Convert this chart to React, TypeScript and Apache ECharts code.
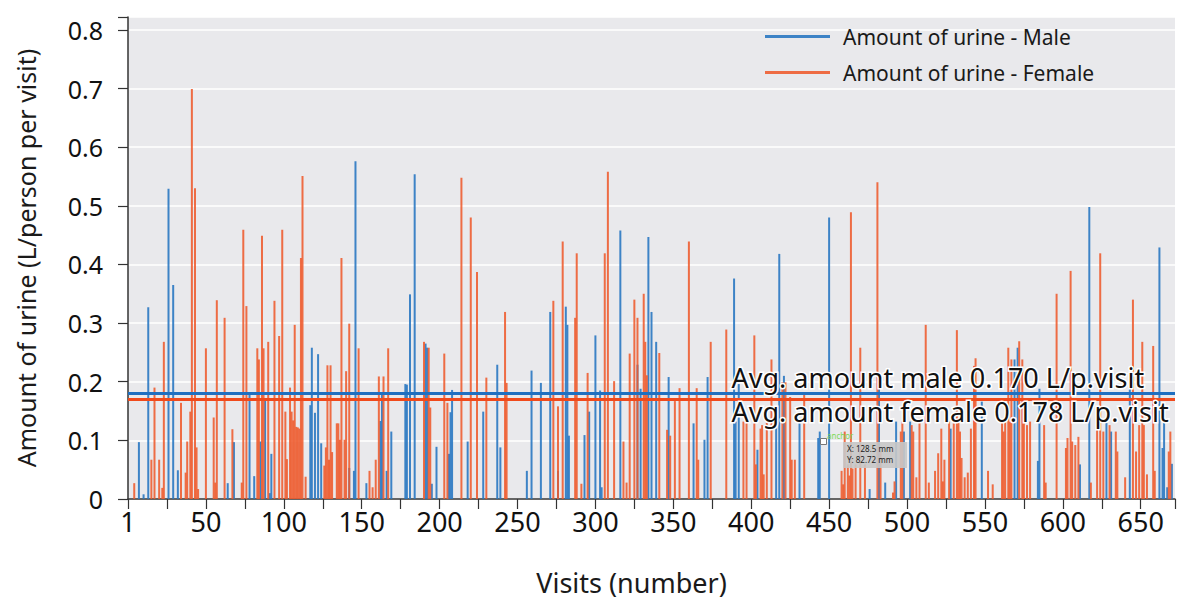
import React, { useEffect, useRef } from "react";
import * as echarts from "echarts";

const maleVisits = [7, 10, 13, 26, 29, 32, 64, 68, 78, 81, 85, 88, 91, 92, 117, 118, 120, 122, 124, 142, 145, 146, 153, 162, 163, 166, 169, 178, 179, 181, 184, 191, 192, 195, 198, 206, 207, 208, 218, 228, 237, 239, 256, 259, 265, 271, 276, 281, 282, 283, 293, 296, 300, 303, 304, 316, 327, 329, 334, 336, 339, 347, 363, 370, 372, 389, 390, 392, 404, 416, 418, 421, 431, 443, 444, 450, 476, 482, 486, 493, 498, 502, 528, 548, 569, 571, 584, 585, 611, 617, 628, 631, 643, 662, 664, 665, 667, 670];
const maleValues = [0.097, 0.008, 0.327, 0.529, 0.365, 0.049, 0.027, 0.097, 0.181, 0.039, 0.098, 0.171, 0.01, 0.077, 0.16, 0.258, 0.147, 0.247, 0.095, 0.053, 0.048, 0.576, 0.027, 0.133, 0.181, 0.048, 0.115, 0.196, 0.195, 0.349, 0.554, 0.265, 0.258, 0.026, 0.089, 0.077, 0.148, 0.186, 0.098, 0.149, 0.229, 0.088, 0.048, 0.219, 0.198, 0.319, 0.048, 0.328, 0.297, 0.108, 0.109, 0.149, 0.279, 0.185, 0.02, 0.458, 0.229, 0.188, 0.447, 0.319, 0.268, 0.208, 0.129, 0.101, 0.208, 0.376, 0.132, 0.196, 0.084, 0.126, 0.418, 0.21, 0.132, 0.104, 0.115, 0.48, 0.017, 0.188, 0.028, 0.132, 0.115, 0.132, 0.12, 0.166, 0.238, 0.258, 0.065, 0.188, 0.059, 0.498, 0.13, 0.115, 0.19, 0.429, 0.087, 0.13, 0.02, 0.06];

const femaleVisits = [4, 15, 17, 20, 22, 23, 34, 37, 38, 40, 41, 43, 44, 45, 50, 55, 56, 57, 62, 67, 73, 74, 76, 83, 84, 86, 87, 90, 94, 97, 99, 101, 102, 104, 105, 106, 107, 108, 109, 110, 111, 112, 114, 126, 127, 128, 129, 130, 131, 134, 135, 136, 137, 139, 140, 142, 148, 155, 157, 159, 161, 164, 167, 190, 193, 194, 203, 205, 214, 220, 224, 230, 242, 243, 273, 276, 279, 287, 288, 291, 295, 306, 308, 312, 318, 320, 322, 325, 327, 331, 332, 333, 341, 346, 348, 351, 354, 360, 365, 366, 374, 384, 395, 397, 402, 403, 406, 407, 408, 410, 413, 420, 422, 425, 426, 428, 434, 458, 459, 460, 462, 463, 464, 465, 467, 470, 473, 481, 483, 491, 492, 496, 497, 503, 504, 506, 508, 512, 514, 518, 520, 522, 523, 524, 527, 530, 532, 533, 534, 535, 537, 539, 541, 543, 544, 552, 555, 561, 562, 563, 565, 566, 567, 572, 574, 575, 577, 579, 588, 589, 596, 602, 603, 605, 606, 608, 610, 618, 622, 624, 626, 630, 634, 635, 640, 645, 647, 649, 651, 652, 654, 658, 659, 668, 669];
const femaleValues = [0.027, 0.067, 0.19, 0.067, 0.019, 0.268, 0.164, 0.045, 0.098, 0.149, 0.699, 0.53, 0.088, 0.017, 0.257, 0.139, 0.028, 0.339, 0.309, 0.119, 0.028, 0.459, 0.329, 0.257, 0.238, 0.449, 0.257, 0.268, 0.338, 0.278, 0.459, 0.149, 0.068, 0.19, 0.149, 0.134, 0.297, 0.123, 0.122, 0.12, 0.411, 0.551, 0.038, 0.057, 0.088, 0.228, 0.067, 0.228, 0.08, 0.129, 0.129, 0.101, 0.411, 0.101, 0.218, 0.299, 0.257, 0.048, 0.02, 0.067, 0.209, 0.209, 0.257, 0.268, 0.258, 0.156, 0.248, 0.164, 0.548, 0.48, 0.387, 0.207, 0.319, 0.198, 0.338, 0.158, 0.439, 0.309, 0.419, 0.026, 0.215, 0.419, 0.558, 0.201, 0.098, 0.028, 0.248, 0.34, 0.309, 0.35, 0.268, 0.211, 0.249, 0.118, 0.108, 0.167, 0.189, 0.439, 0.189, 0.067, 0.268, 0.289, 0.132, 0.132, 0.279, 0.059, 0.12, 0.126, 0.042, 0.13, 0.238, 0.199, 0.199, 0.174, 0.067, 0.067, 0.182, 0.048, 0.025, 0.115, 0.059, 0.04, 0.489, 0.052, 0.059, 0.258, 0.059, 0.54, 0.082, 0.011, 0.03, 0.115, 0.132, 0.126, 0.115, 0.037, 0.137, 0.297, 0.028, 0.048, 0.078, 0.12, 0.03, 0.067, 0.132, 0.129, 0.288, 0.135, 0.115, 0.07, 0.037, 0.045, 0.12, 0.227, 0.24, 0.048, 0.025, 0.132, 0.115, 0.14, 0.258, 0.132, 0.238, 0.269, 0.238, 0.132, 0.126, 0.132, 0.126, 0.028, 0.35, 0.087, 0.104, 0.389, 0.098, 0.092, 0.106, 0.028, 0.126, 0.419, 0.115, 0.126, 0.115, 0.081, 0.037, 0.34, 0.081, 0.126, 0.268, 0.126, 0.042, 0.261, 0.048, 0.081, 0.115];

const avgLineMale = 0.181;
const avgLineFemale = 0.175;
const avgLabels = ["Avg. amount male 0.170 L/p.visit", "Avg. amount female 0.178 L/p.visit"];
const seriesNames = ["Amount of urine - Male", "Amount of urine - Female"];
const xTickStep = 25;
const xLabelStep = 50;
const xMax = 672;
const yMax = 0.822;
const yStep = 0.1;

const BLUE = "#2a78c2";
const ORANGE = "#ee5a2c";
const FONT = "Noto Sans";

export default function App() {
  const ref = useRef<HTMLDivElement>(null);
  useEffect(() => {
    if (!ref.current) return;
    const chart = echarts.init(ref.current, undefined, { renderer: "svg" });
    const maleData = maleVisits.map((v, i) => [v, maleValues[i]]);
    const femaleData = femaleVisits.map((v, i) => [v, femaleValues[i]]);
    chart.setOption({
      animation: false,
      backgroundColor: "#ffffff",
      textStyle: { fontFamily: FONT },
      grid: {
        left: 128,
        right: 0,
        top: 17,
        bottom: 96,
        show: true,
        backgroundColor: "#e9e9ec",
        borderWidth: 0,
      },
      legend: {
        orient: "vertical",
        left: 760,
        top: 21,
        itemWidth: 65,
        itemHeight: 3,
        itemGap: 15,
        icon: "rect",
        textStyle: { fontSize: 21, color: "#1a1a1a", fontFamily: FONT, padding: [0, 0, 0, 8] },
        data: seriesNames,
      },
      xAxis: {
        type: "value",
        min: 0,
        max: xMax,
        interval: xTickStep,
        name: "Visits (number)",
        nameLocation: "middle",
        nameGap: 70,
        nameTextStyle: { fontSize: 27, color: "#1a1a1a", fontFamily: FONT, padding: [0, 40, 0, 0] },
        axisLine: { show: true, lineStyle: { color: "#333", width: 1.5 } },
        axisTick: { show: true, length: 10, lineStyle: { color: "#333", width: 1.2 } },
        axisLabel: {
          fontSize: 27,
          color: "#111",
          margin: 9,
          fontFamily: FONT,
          formatter: (v: number) => (v === 0 ? "1" : v % xLabelStep === 0 && v <= 650 ? String(v) : ""),
        },
        splitLine: { show: false },
      },
      yAxis: {
        type: "value",
        min: 0,
        max: yMax,
        interval: yStep,
        name: "Amount of urine (L/person per visit)",
        nameLocation: "middle",
        nameGap: 90,
        nameTextStyle: { fontSize: 25, color: "#1a1a1a", fontFamily: FONT },
        axisLine: { show: true, lineStyle: { color: "#333", width: 1.5 } },
        axisTick: { show: true, length: 10, inside: false, lineStyle: { color: "#333", width: 1.2 } },
        axisLabel: {
          fontSize: 25,
          color: "#111",
          margin: 25,
          fontFamily: FONT,
          formatter: (v: number) => (v > 0.81 ? "" : v === 0 ? "0" : v.toFixed(1)),
        },
        splitLine: { show: true, lineStyle: { color: "#ffffff", width: 1.5 } },
      },
      series: [
        {
          name: seriesNames[0],
          type: "bar",
          data: maleData,
          barWidth: 2,
          barGap: "-100%",
          itemStyle: { color: BLUE, opacity: 0.9 },
          markLine: {
            silent: true,
            symbol: "none",
            label: { show: false },
            lineStyle: { color: "#1f6fc0", width: 3, type: "solid" },
            data: [{ yAxis: avgLineMale }],
          },
        },
        {
          name: seriesNames[1],
          type: "bar",
          data: femaleData,
          barWidth: 2,
          barGap: "-100%",
          itemStyle: { color: ORANGE, opacity: 0.88 },
          markLine: {
            silent: true,
            symbol: "none",
            label: { show: false },
            lineStyle: { color: "#f04a1c", width: 3, type: "solid" },
            data: [{ yAxis: avgLineFemale }],
          },
        },
      ],
      graphic: [
        {
          type: "text",
          left: 730,
          top: 362,
          z: 100,
          style: {
            text: avgLabels[0],
            font: `27px "${FONT}"`,
            fill: "#111",
            stroke: "#ffffff",
            lineWidth: 3,
          },
        },
        {
          type: "text",
          left: 730,
          top: 396,
          z: 100,
          style: {
            text: avgLabels[1],
            font: `27px "${FONT}"`,
            fill: "#111",
            stroke: "#ffffff",
            lineWidth: 3,
          },
        },
        {
          type: "rect",
          left: 843,
          top: 442,
          z: 100,
          shape: { width: 64, height: 26 },
          style: { fill: "rgba(200,200,200,0.9)" },
        },
        {
          type: "text",
          left: 847,
          top: 444,
          z: 101,
          style: { text: "X: 128.5 mm", font: `8px "${FONT}"`, fill: "#222" },
        },
        {
          type: "text",
          left: 847,
          top: 455,
          z: 101,
          style: { text: "Y: 82.72 mm", font: `8px "${FONT}"`, fill: "#222" },
        },
        {
          type: "rect",
          left: 820,
          top: 438,
          z: 101,
          shape: { width: 6, height: 6 },
          style: { fill: "#ffffff", stroke: "#777", lineWidth: 1 },
        },
        {
          type: "text",
          left: 827,
          top: 431,
          z: 101,
          style: { text: "anchor", font: `8px "${FONT}"`, fill: "#7ed957" },
        },
      ],
    });
    return () => chart.dispose();
  }, []);
  return (
    <div
      ref={ref}
      style={{ position: "fixed", left: 0, top: 0, width: 1178, height: 601 }}
    />
  );
}
